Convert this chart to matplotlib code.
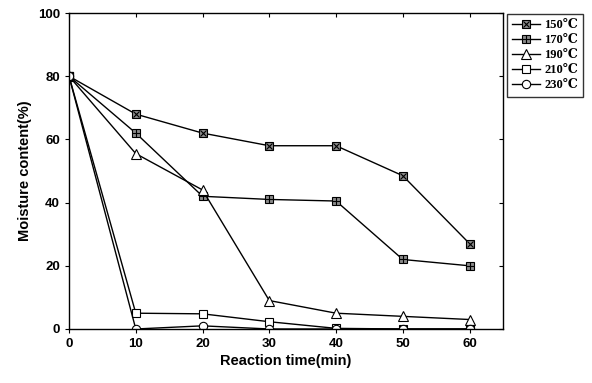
import matplotlib.pyplot as plt

time_min = [0, 10, 20, 30, 40, 50, 60]
m150 = [80, 68, 62, 58, 58, 48.5, 27]
m170 = [80, 62, 42, 41, 40.5, 22, 20]
m190 = [80, 55.5, 44, 9, 5, 4, 3]
m210 = [80, 5, 4.8, 2.3, 0.2, 0, 0]
m230 = [80, 0, 1, 0, 0, 0, 0]
labels = ['150\u2103', '170\u2103', '190\u2103', '210\u2103', '230\u2103']

plt.rcParams['font.family'] = ['Liberation Sans', 'DejaVu Sans']

fig = plt.figure(figsize=(5.92, 3.83), dpi=100)
ax = fig.add_axes([0.1166, 0.141, 0.733, 0.825])

# gray squares with an overlaid cross / plus for the first two series
h1 = ax.plot(time_min, m150, color='black', lw=1, marker='s', ms=6,
             mfc='#8a8a8a', mec='black', mew=0.8)[0]
o1 = ax.plot(time_min, m150, ls='none', marker='x', ms=5, mec='black', mew=0.8)[0]
h2 = ax.plot(time_min, m170, color='black', lw=1, marker='s', ms=6,
             mfc='#8a8a8a', mec='black', mew=0.8)[0]
o2 = ax.plot(time_min, m170, ls='none', marker='+', ms=6, mec='black', mew=0.8)[0]
h3 = ax.plot(time_min, m190, color='black', lw=1, marker='^', ms=6.5,
             mfc='white', mec='black', mew=0.8)[0]
h4 = ax.plot(time_min, m210, color='black', lw=1, marker='s', ms=6,
             mfc='white', mec='black', mew=0.8)[0]
h5 = ax.plot(time_min, m230, color='black', lw=1, marker='o', ms=6,
             mfc='white', mec='black', mew=0.8)[0]

ax.set_xlim(0, 65)
ax.set_ylim(0, 100)
ax.set_xticks([0, 10, 20, 30, 40, 50, 60])
ax.set_yticks([0, 20, 40, 60, 80, 100])
for lab in ax.get_xticklabels() + ax.get_yticklabels():
    lab.set_fontweight('bold')
    lab.set_fontsize(9.5)
ax.tick_params(direction='out', length=3, width=0.8)
ax.tick_params(axis='x', which='both', top=True)
ax.tick_params(axis='y', which='both', right=True)
for t in ax.xaxis.get_major_ticks():
    t.tick2line.set_marker(3)
for t in ax.yaxis.get_major_ticks():
    t.tick2line.set_marker(0)
for sp in ax.spines.values():
    sp.set_linewidth(1)

ax.set_xlabel('Reaction time(min)', fontsize=10.5, fontweight='bold', labelpad=3)
ax.set_ylabel('Moisture content(%)', fontsize=10.5, fontweight='bold', labelpad=4)

leg = fig.legend([(h1, o1), (h2, o2), h3, h4, h5], labels,
                 loc='upper left', bbox_to_anchor=(507 / 592, 1 - 14 / 383),
                 borderaxespad=0, frameon=True, fancybox=False,
                 handlelength=2.2, handletextpad=0.4, labelspacing=0.25,
                 borderpad=0.4,
                 prop={'family': ['Liberation Serif', 'DejaVu Serif'],
                       'weight': 'bold', 'size': 9})
leg.get_frame().set_edgecolor('black')
leg.get_frame().set_linewidth(1)

fig.savefig('out.png', dpi=100)
